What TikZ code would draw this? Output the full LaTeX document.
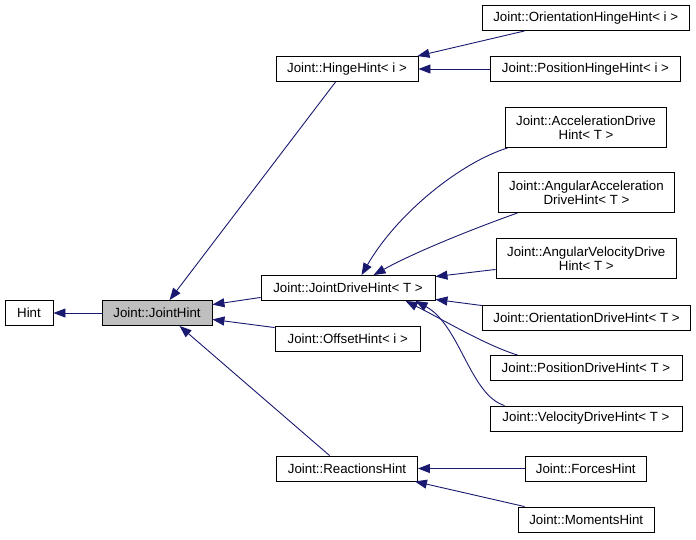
\documentclass[tikz,border=0pt]{standalone}
\usepackage{fontspec}
\setmainfont{Liberation Sans}
\usetikzlibrary{arrows.meta,calc}
\definecolor{edgeblue}{RGB}{25,25,112}
\definecolor{boxgray}{RGB}{191,191,191}
\begin{document}
\begin{tikzpicture}[x=1pt,y=-1pt,
  box/.style={draw=black,line width=0.9pt,rectangle,inner sep=0pt,minimum height=25pt,
    font=\fontsize{13.3}{14.5}\selectfont,align=center,text=black},
  tall/.style={box,minimum height=40pt},
  edge/.style={draw=edgeblue,line width=0.9pt,-{Triangle[length=12pt,width=9pt]}}]
\useasboundingbox[fill=white] (0,0) rectangle (696,539);
% nodes
\node[box,minimum width=48pt] (hint) at (29,313) {Hint};
\node[box,minimum width=110pt,fill=boxgray] (jh) at (157,313) {Joint::JointHint};
\node[box,minimum width=142pt] (hinge) at (347,69) {Joint::HingeHint< i >};
\node[box,minimum width=174pt] (jdh) at (348,288) {Joint::JointDriveHint< T >};
\node[box,minimum width=145.5pt] (off) at (347.75,338.5) {Joint::OffsetHint< i >};
\node[box,minimum width=141pt] (react) at (347,468.5) {Joint::ReactionsHint};
\node[box,minimum width=206.5pt] (ohh) at (585.75,18) {Joint::OrientationHingeHint< i >};
\node[box,minimum width=190pt] (phh) at (585.5,69) {Joint::PositionHingeHint< i >};
\node[tall,minimum width=161pt] (acc) at (586,127.5) {Joint::AccelerationDrive\\Hint< T >};
\node[tall,minimum width=176pt] (aacc) at (586.5,192.5) {Joint::AngularAcceleration\\DriveHint< T >};
\node[tall,minimum width=180.5pt] (avel) at (586.25,258.5) {Joint::AngularVelocityDrive\\Hint< T >};
\node[box,minimum width=208pt] (odh) at (586.5,317.5) {Joint::OrientationDriveHint< T >};
\node[box,minimum width=192pt] (pdh) at (586,368) {Joint::PositionDriveHint< T >};
\node[box,minimum width=192pt] (vdh) at (586,418.5) {Joint::VelocityDriveHint< T >};
\node[box,minimum width=121.5pt] (forces) at (585.75,468.5) {Joint::ForcesHint};
\node[box,minimum width=136.5pt] (moments) at (586.25,519.5) {Joint::MomentsHint};
% edges
\draw[edge] (jh.west) -- (hint.east);
\draw[edge] ($(hinge.south west)+(60,0)$) -- ($(jh.north west)+(68,0)$);
\draw[edge] ($(jdh.south west)+(0,-3.5)$) -- ($(jh.north east)+(0,4.5)$);
\draw[edge] ($(off.north west)+(0,2)$) -- ($(jh.south east)+(0,-6.5)$);
\draw[edge] ($(react.north west)+(53.5,0)$) -- ($(jh.south west)+(78,0)$);
\draw[edge] ($(ohh.south west)+(42.5,0)$) -- ($(hinge.north east)+(-1,0)$);
\draw[edge] (phh.west) -- (hinge.east);
\draw[edge] ($(acc.south west)+(2.5,0)$) .. controls (462,162) and (398,212) .. ($(jdh.north west)+(101,0)$);
\draw[edge] ($(aacc.south west)+(19.5,0)$) .. controls (475,228) and (415,252) .. ($(jdh.north west)+(113,0)$);
\draw[edge] ($(avel.south west)+(0,-9.5)$) -- ($(jdh.north east)+(0,1.5)$);
\draw[edge] ($(odh.north west)+(0,1)$) -- ($(jdh.south east)+(0,-1.5)$);
\draw[edge] ($(pdh.north west)+(28,0)$) .. controls (485,345) and (440,318) .. ($(jdh.south west)+(145,0)$);
\draw[edge] ($(vdh.north west)+(15,0)$) .. controls (470,395) and (460,325) .. ($(jdh.south west)+(155,0)$);
\draw[edge] (forces.west) -- (react.east);
\draw[edge] ($(moments.north west)+(7,0)$) -- ($(react.south east)+(-3,0)$);
\end{tikzpicture}
\end{document}
